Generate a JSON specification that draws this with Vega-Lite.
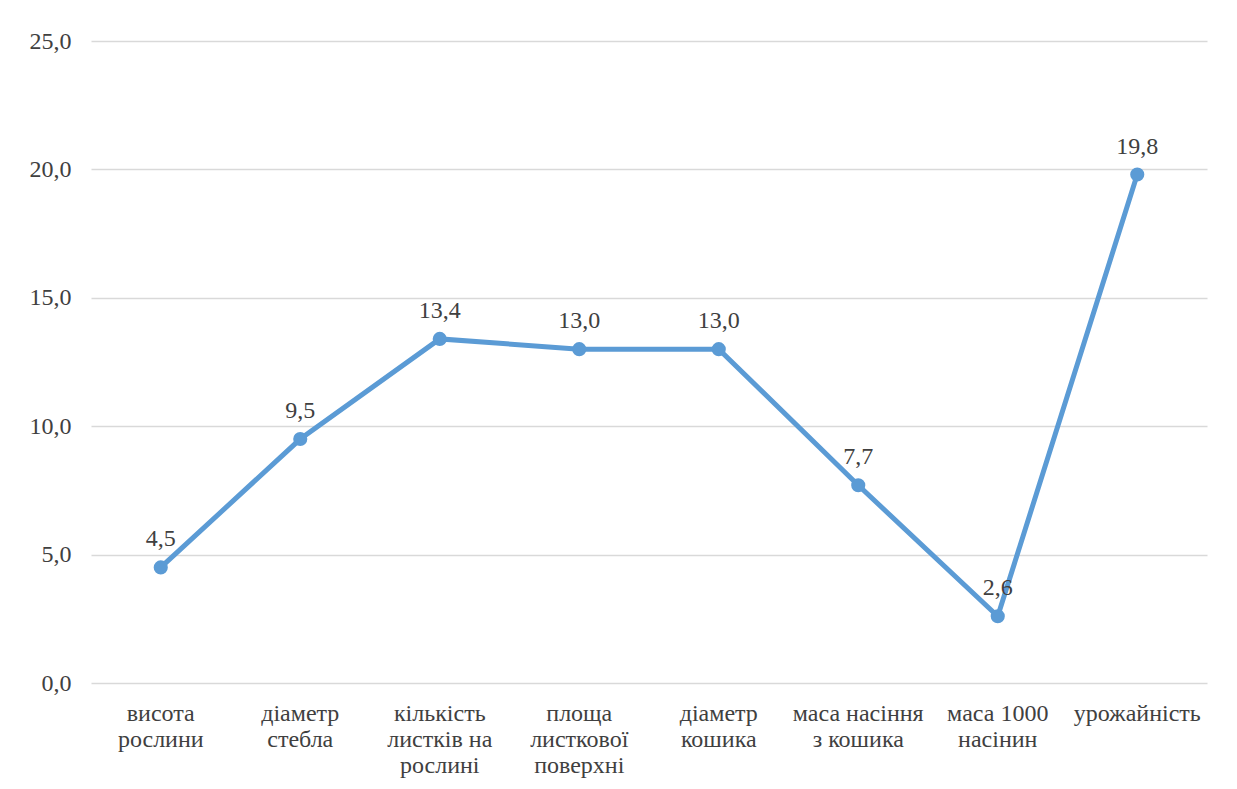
{
  "$schema": "https://vega.github.io/schema/vega-lite/v6.json",
  "width": 1116,
  "height": 642,
  "autosize": {"type": "none"},
  "padding": {"left": 91, "top": 41, "right": 30, "bottom": 106},
  "background": "white",
  "config": {
    "view": {"stroke": null},
    "font": "Liberation Serif",
    "locale": {"number": {"decimal": ",", "thousands": " ", "grouping": [3], "currency": ["", ""]}}
  },
  "data": {
    "values": [
      {"label": "висота\nрослини", "value": 4.5},
      {"label": "діаметр\nстебла", "value": 9.5},
      {"label": "кількість\nлистків на\nрослині", "value": 13.4},
      {"label": "площа\nлисткової\nповерхні", "value": 13.0},
      {"label": "діаметр\nкошика", "value": 13.0},
      {"label": "маса насіння\nз кошика", "value": 7.7},
      {"label": "маса 1000\nнасінин", "value": 2.6},
      {"label": "урожайність", "value": 19.8}
    ]
  },
  "encoding": {
    "x": {
      "field": "label", "type": "nominal", "sort": null,
      "scale": {"type": "band", "paddingInner": 0, "paddingOuter": 0},
      "axis": {
        "title": null, "domain": false, "ticks": false, "grid": false,
        "labelAngle": 0, "labelExpr": "split(datum.label, '\\n')",
        "labelFont": "Liberation Serif", "labelFontSize": 24, "labelColor": "#404040",
        "labelPadding": 18, "labelLineHeight": 26, "labelBaseline": "top"
      }
    },
    "y": {
      "field": "value", "type": "quantitative",
      "scale": {"domain": [0, 25]},
      "axis": {
        "title": null, "domain": false, "ticks": false, "values": [0, 5, 10, 15, 20, 25],
        "format": ".1f", "labelFont": "Liberation Serif", "labelFontSize": 24, "labelColor": "#404040",
        "labelPadding": 20, "gridColor": "#D9D9D9", "gridWidth": 1.5
      }
    }
  },
  "layer": [
    {"mark": {"type": "line", "color": "#5B9BD5", "strokeWidth": 5}},
    {"mark": {"type": "point", "filled": true, "color": "#5B9BD5", "size": 200, "opacity": 1}},
    {
      "mark": {"type": "text", "dy": -28, "font": "Liberation Serif", "fontSize": 24, "color": "#404040"},
      "encoding": {"text": {"field": "value", "type": "quantitative", "format": ".1f"}}
    }
  ]
}
